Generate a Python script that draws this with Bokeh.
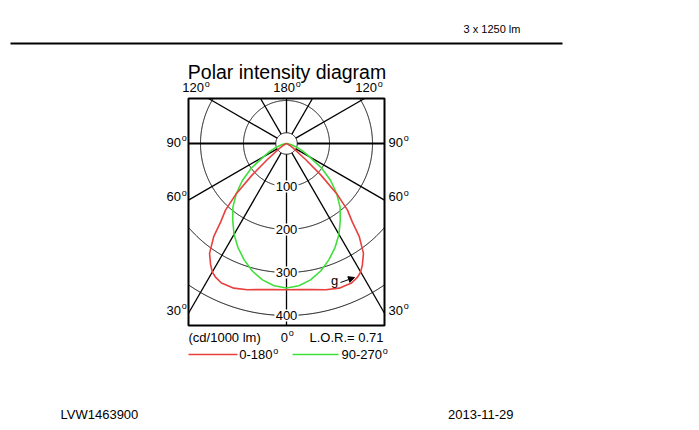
import numpy as np
from bokeh.plotting import figure
from bokeh.models import Range1d, Arrow, NormalHead
from bokeh.core.properties import value
from bokeh.embed import file_html
from bokeh.resources import INLINE

# ---------------- data ----------------
# angles measured from nadir (degrees), intensity in cd/1000 lm
red_angles = [0, 5, 10, 15, 20, 25, 28, 30, 32, 35, 38, 40, 42.5, 45, 47.5, 50, 55, 60, 70, 80, 90]
red_values = [340, 341, 345, 352, 358, 358, 352, 345, 333, 312, 275, 238, 210, 165, 108, 58, 20, 8, 2, 0, 0]
green_angles = [0, 5, 10, 15, 20, 25, 30, 35, 40, 45, 50, 55, 60, 65, 70, 75, 80, 90]
green_values = [336, 332, 322, 307, 288, 267, 244, 218, 194, 165, 134, 100, 62, 42, 25, 12, 4, 0]
ring_radii = [100, 200, 300, 400]
ring_labels = ["100", "200", "300", "400"]
spoke_angles = [0, 30, 60, 90, 120, 150, 180, 210, 240, 270, 300, 330]
series_names = ["0-180", "90-270"]
header_text = "3 x 1250 lm"
footer_left = "LVW1463900"
footer_right = "2013-11-29"
lor_text = "L.O.R.= 0.71"
unit_text = "(cd/1000 lm)"

RED = "#e8403f"
GREEN = "#3fe03a"
FONT = value("Liberation Sans")

# ---------------- geometry (page px -> data units) ----------------
S = 0.43           # px per cd
CX, CY = 286, 143  # page position of the pole
OX, OY = 0, 0      # page position of the canvas
W, H = 699, 430


def d(X, Y):
    return (X - CX) / S, (CY - Y) / S


x0, y1 = d(OX, OY)
x1, y0 = d(OX + W, OY + H)

p = figure(width=W, height=H, x_range=Range1d(x0, x1), y_range=Range1d(y0, y1),
           output_backend="svg", toolbar_location=None, min_border=0,
           x_axis_location=None, y_axis_location=None)
p.grid.visible = False
p.outline_line_color = None
p.background_fill_color = "white"
p.border_fill_color = "white"

BL, BT = d(188, 98)
BR, BB = d(384, 325)

# rings clipped to the box
phi = np.linspace(0, 2 * np.pi, 1441)
for r in ring_radii:
    xs = r * np.cos(phi)
    ys = r * np.sin(phi)
    m = (xs < BL) | (xs > BR) | (ys > BT) | (ys < BB)
    xs = np.where(m, np.nan, xs)
    ys = np.where(m, np.nan, ys)
    p.line(xs, ys, line_color="black", line_width=1)
r0 = 25
p.line(r0 * np.cos(phi), r0 * np.sin(phi), line_color="black", line_width=1)

# spokes from small circle to box
sx, sy, sw = [], [], []
for a in spoke_angles:
    t = np.radians(a)
    dx, dy = np.sin(t), -np.cos(t)
    cands = []
    if dx > 1e-9:
        cands.append(BR / dx)
    if dx < -1e-9:
        cands.append(BL / dx)
    if dy > 1e-9:
        cands.append(BT / dy)
    if dy < -1e-9:
        cands.append(BB / dy)
    tt = min(cands)
    sx.append([r0 * dx, tt * dx])
    sy.append([r0 * dy, tt * dy])
    sw.append(2.0 if a in (90, 270) else 1.3)
p.multi_line(xs=sx, ys=sy, line_color="black", line_width=sw)

# box
p.quad(left=BL, right=BR, top=BT, bottom=BB, fill_color=None, line_color="black", line_width=2)

# curves
def curve(angles, vals):
    a = np.radians(np.array(angles, dtype=float))
    v = np.array(vals, dtype=float)
    xl = -v * np.sin(a)
    yl = -v * np.cos(a)
    xr = v * np.sin(a)
    return np.concatenate([xl[::-1], xr]), np.concatenate([yl[::-1], yl])

gx, gy = curve(green_angles, green_values)
p.line(gx, gy, line_color=GREEN, line_width=1.6)
rx, ry = curve(red_angles, red_values)
p.line(rx, ry, line_color=RED, line_width=1.6)

# ring value labels with white background
lab_y = [-r for r in ring_radii]
p.rect(x=[0] * 4, y=lab_y, width=24 / S, height=12 / S, fill_color="white", line_color=None)
p.text(x=[0] * 4, y=lab_y, text=ring_labels, text_font=FONT, text_font_size="13px",
       text_align="center", text_baseline="middle", text_color="black")


def deg_label(text, X, Y, size="13px"):
    x, y = d(X, Y)
    p.text(x=[x], y=[y], text=[text], text_font=FONT, text_font_size=size,
           text_align="right", text_baseline="middle", text_color="black")
    x2, y2 = d(X + 0.8, Y - 3.8)
    p.text(x=[x2], y=[y2], text=["o"], text_font=FONT, text_font_size="9px",
           text_align="left", text_baseline="middle", text_color="black")


deg_label("120", 203.5, 87)
deg_label("180", 294.5, 87)
deg_label("120", 376.5, 87)
for lbl, Y in [("90", 141.5), ("60", 196), ("30", 309.5)]:
    deg_label(lbl, 180.5, Y)
    deg_label(lbl, 402.5, Y)
deg_label("0", 287.5, 336.5)


def txt(text, X, Y, size="13px", align="left"):
    x, y = d(X, Y)
    p.text(x=[x], y=[y], text=[text], text_font=FONT, text_font_size=size,
           text_align=align, text_baseline="middle", text_color="black")


# title
txt("Polar intensity diagram", 286.5, 71, size="19.5px", align="center")
txt(unit_text, 188, 336.5)
txt(lor_text, 383, 336.5, align="right")

# legend
lx0, ly = d(188, 354)
lx1, _ = d(237, 354)
p.line([lx0, lx1], [ly, ly], line_color=RED, line_width=1.6)
deg_label(series_names[0], 240 + 32, 354)
gx0, _ = d(292, 354)
gx1, _ = d(338, 354)
p.line([gx0, gx1], [ly, ly], line_color=GREEN, line_width=1.6)
deg_label(series_names[1], 342 + 39.5, 354)

# g marker with arrow
txt("g", 330.5, 280)
ax0, ay0 = d(340, 282)
ax1, ay1 = d(354, 277)
p.add_layout(Arrow(end=NormalHead(size=6, fill_color="black", line_color="black"),
                   x_start=ax0, y_start=ay0, x_end=ax1, y_end=ay1, line_width=1))

# header / footer
txt(header_text, 491.5, 28, size="11px", align="center")
hx0, hy = d(10, 43)
hx1, _ = d(562, 43)
p.line([hx0, hx1], [hy, hy], line_color="black", line_width=2)
txt(footer_left, 60, 413.5, size="13px")
txt(footer_right, 513, 413.5, size="13px", align="right")

open("out.html", "w").write(file_html(p, INLINE))
